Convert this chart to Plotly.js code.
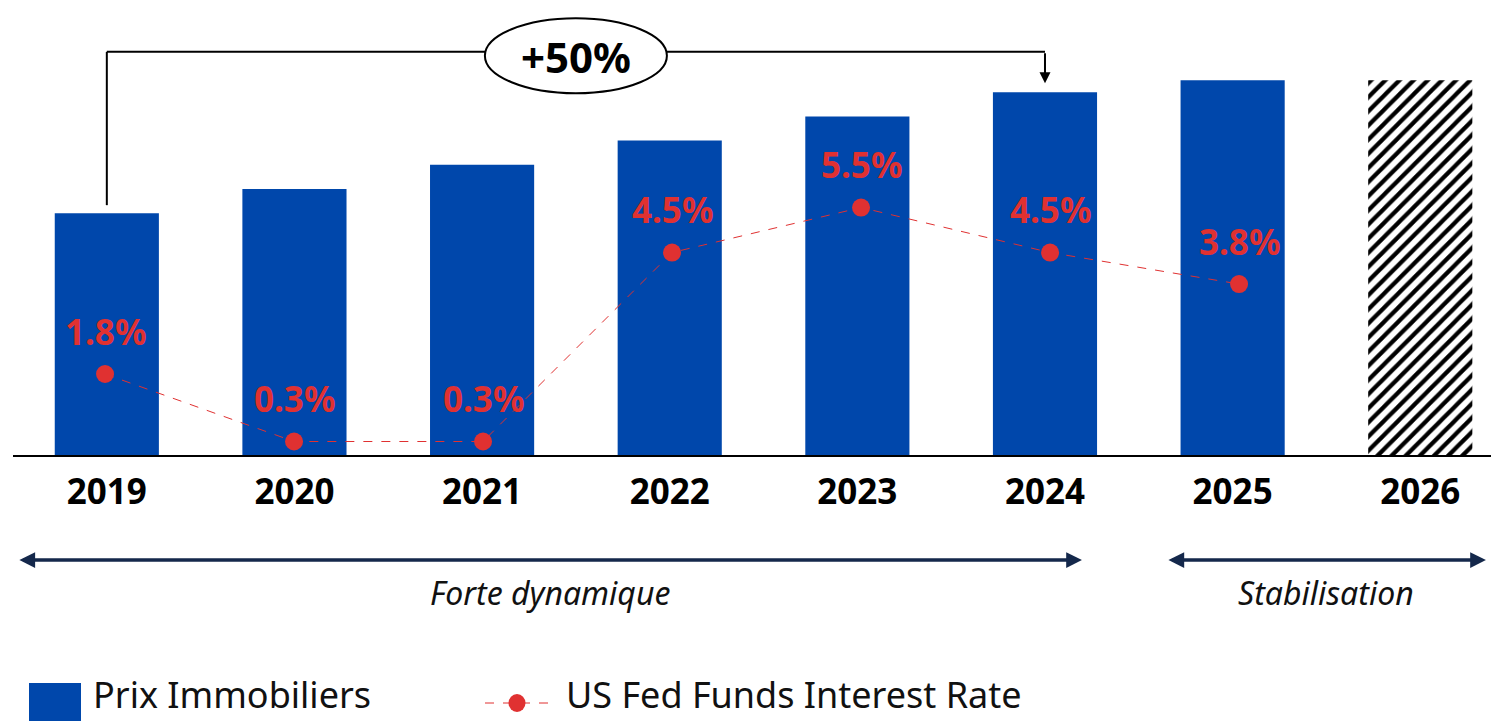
<!DOCTYPE html>
<html>
<head>
<meta charset="utf-8">
<script src="https://cdn.plot.ly/plotly-3.0.1.min.js"></script>
<style>html,body{margin:0;padding:0;background:#fff;}#chart{width:1491px;height:721px;}</style>
</head>
<body>
<div id="chart"></div>
<script>
// ---- data ----
const years = ['2019','2020','2021','2022','2023','2024','2025','2026'];
const prices = [100, 110, 120, 130, 140, 150, 155, 155];   // price index (2019 = 100)
const projected = [false, false, false, false, false, false, false, true];
const rateYears = ['2019','2020','2021','2022','2023','2024','2025'];
const rates = [1.8, 0.3, 0.3, 4.5, 5.5, 4.5, 3.8];
const growthLabel = '+50%';
const periods = ['Forte dynamique', 'Stabilisation'];
const seriesNames = ['Prix Immobiliers', 'US Fed Funds Interest Rate'];

// ---- style ----
const BLUE = '#0047AB', RED = '#E03131', NAVY = '#14284B';
const FONT = 'Noto Sans, Open Sans, sans-serif';
const W = 1491, H = 721, ML = 13, MR = 0, MT = 10, MB = 266;
const PW = W - ML - MR, PH = H - MT - MB;
const px2x = p => (p - ML) / PW;          // pixel -> paper x
const py2y = p => (H - MB - p) / PH;      // pixel -> paper y

const histX = [], histY = [], projX = [], projY = [];
years.forEach((y, i) => { if (projected[i]) { projX.push(y); projY.push(prices[i]); } else { histX.push(y); histY.push(prices[i]); } });

const traces = [
  { type: 'bar', x: histX, y: histY, name: seriesNames[0], marker: { color: BLUE }, showlegend: false, hoverinfo: 'x+y' },
  { type: 'bar', x: projX, y: projY, name: seriesNames[0] + ' (proj.)', showlegend: false,
    marker: { color: 'white', line: { width: 0 }, pattern: { shape: '/', fgcolor: 'black', bgcolor: 'white', size: 10, solidity: 0.42 } } },
  { type: 'scatter', mode: 'lines+markers', x: rateYears, y: rates, xaxis: 'x2', yaxis: 'y2', name: seriesNames[1], showlegend: false,
    line: { color: RED, width: 1, dash: 'dash' }, marker: { color: RED, size: 18 } }
];

const annotations = [];
// rate labels
rates.forEach((r, i) => annotations.push({
  xref: 'x2', yref: 'y2', x: i, y: r, yshift: 43, xanchor: 'center', yanchor: 'middle', showarrow: false,
  text: '<b>' + r.toFixed(1) + '%</b>', font: { family: FONT, size: 35, color: RED }
}));
// growth bracket arrowhead (into 2024 bar)
const i0 = 0, i1 = years.indexOf('2024');
const bracketY = 166.7;
annotations.push({ xref: 'x', yref: 'y', x: i1, y: prices[i1], ax: i1, ay: bracketY, axref: 'x', ayref: 'y',
  showarrow: true, arrowhead: 2, arrowsize: 1.1, arrowwidth: 2, arrowcolor: 'black', standoff: 9, text: '' });
annotations.push({ xref: 'x', yref: 'y', x: (i0 + i1) / 2, y: bracketY - 2, xanchor: 'center', yanchor: 'middle', showarrow: false,
  text: '<b>' + growthLabel + '</b>', font: { family: FONT, size: 42, color: 'black' } });
// period arrows
const arrowY = py2y(560);
const periodSpans = [[-0.474, 5.197], [5.65, 7.35]];
periods.forEach((p, k) => {
  const [a, b] = periodSpans[k];
  annotations.push({ xref: 'x', yref: 'paper', x: b, y: arrowY, ax: a, ay: arrowY, axref: 'x', ayref: 'paper',
    showarrow: true, arrowside: 'end+start', arrowhead: 2, arrowsize: 0.9, arrowwidth: 3.5, arrowcolor: NAVY, text: '' });
  annotations.push({ xref: 'x', yref: 'paper', x: (a + b) / 2, y: py2y(592), xanchor: 'center', yanchor: 'middle', showarrow: false,
    text: p, font: { family: FONT, size: 32, color: '#111', style: 'italic' } });
});
// manual legend text
annotations.push({ xref: 'paper', yref: 'paper', x: px2x(92), y: py2y(720), xanchor: 'left', yanchor: 'bottom', borderpad: 0, showarrow: false,
  text: seriesNames[0], font: { family: FONT, size: 36, color: '#111' } });
annotations.push({ xref: 'paper', yref: 'paper', x: px2x(565), y: py2y(720), xanchor: 'left', yanchor: 'bottom', borderpad: 0, showarrow: false,
  text: seriesNames[1], font: { family: FONT, size: 36, color: '#111' } });

const shapes = [
  // bracket
  { type: 'line', xref: 'x', yref: 'y', x0: i0, x1: i0, y0: prices[i0] + 3.3, y1: bracketY, line: { color: 'black', width: 2 } },
  { type: 'line', xref: 'x', yref: 'y', x0: i0, x1: i1, y0: bracketY, y1: bracketY, line: { color: 'black', width: 2 } },
  { type: 'circle', xref: 'x', yref: 'y', x0: (i0 + i1) / 2 - 0.485, x1: (i0 + i1) / 2 + 0.485, y0: 149.6, y1: 180.6,
    fillcolor: 'white', line: { color: 'black', width: 2 } },
  // legend swatches
  { type: 'rect', xref: 'paper', yref: 'paper', x0: px2x(29), x1: px2x(81), y0: py2y(730), y1: py2y(683), fillcolor: BLUE, line: { width: 0 } },
  { type: 'line', xref: 'paper', yref: 'paper', x0: px2x(485), x1: px2x(550), y0: py2y(703), y1: py2y(703), line: { color: RED, width: 1, dash: 'dash' } },
  { type: 'circle', xref: 'paper', yref: 'paper', x0: px2x(508.5), x1: px2x(525.5), y0: py2y(712), y1: py2y(694), fillcolor: RED, line: { width: 0 } }
];

const layout = {
  width: W, height: H,
  margin: { l: ML, r: MR, t: MT, b: MB, pad: 0 },
  paper_bgcolor: 'white', plot_bgcolor: 'white',
  showlegend: false, barmode: 'overlay', bargap: 0.445,
  xaxis: { type: 'category', categoryarray: years, range: [-0.5, 7.377], showgrid: false, zeroline: false,
    showline: true, linecolor: 'black', linewidth: 2, ticks: '', ticklabelstandoff: 5,
    tickfont: { family: FONT, size: 35, color: 'black', weight: 700 }, fixedrange: true },
  xaxis2: { type: 'category', categoryarray: rateYears, overlaying: 'x', anchor: 'y2', range: [-0.487, 7.333], visible: false },
  yaxis: { range: [0, 184], visible: false, showgrid: false, zeroline: false },
  yaxis2: { range: [0, 9.89], overlaying: 'y', anchor: 'x', visible: false, showgrid: false, zeroline: false },
  annotations, shapes,
  font: { family: FONT }
};

Plotly.newPlot('chart', traces, layout, { displayModeBar: false, staticPlot: true });
</script>
</body>
</html>
